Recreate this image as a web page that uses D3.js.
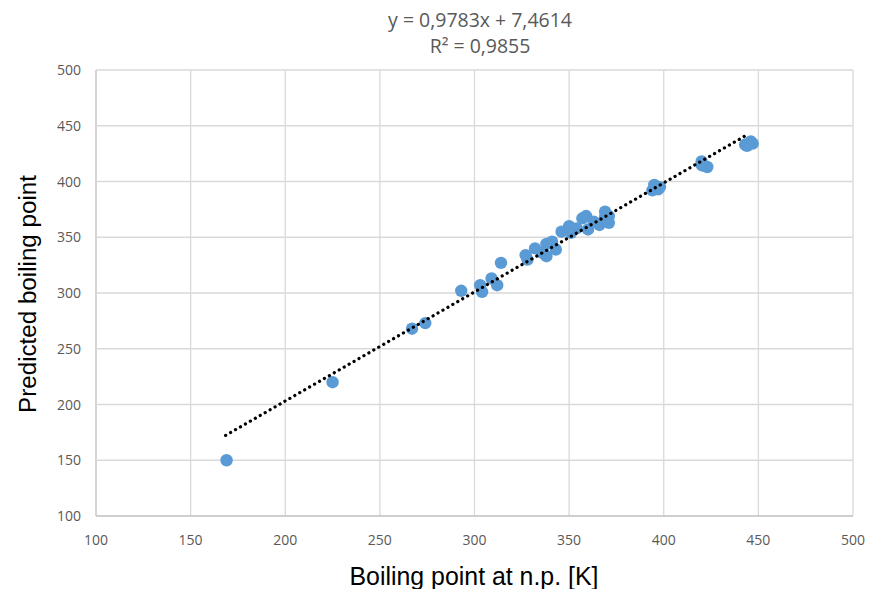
<!DOCTYPE html>
<html><head><meta charset="utf-8">
<script src="https://cdn.jsdelivr.net/npm/d3@7"></script>
<style>body{margin:0;background:#fff}</style>
</head><body>
<svg id="c" width="869" height="589"></svg>
<script>
const xValues = [169,225,267,274,293,303,304,309,312,314,327,328,332,336,338,341,343,338,346,350,351,354,357,359,360,363,366,369,371,371,369,395,397,394,398,420,423,421,420,443,446,447,444];
const yValues = [150,220,268,273,302,307,301,313,307,327,334,330,340,336,333,346,339,344,355,360,354,358,367,369,357,364,361,373,363,369,368,397,393,392,395,418,413,414,415,433,436,434,432];
const slope = 0.9783, intercept = 7.4614;
const equationLines = ["y = 0,9783x + 7,4614", "R² = 0,9855"];
const xTicks = [100,150,200,250,300,350,400,450,500];
const yTicks = [100,150,200,250,300,350,400,450,500];
const xTitle = "Boiling point at n.p. [K]";
const yTitle = "Predicted boiling point";

const svg = d3.select("#c");
const L=96,R=853,T=70,B=516;
const x = d3.scaleLinear().domain([100,500]).range([L,R]);
const y = d3.scaleLinear().domain([100,500]).range([B,T]);
const font = "'Open Sans', Roboto, sans-serif";
const titleFont = "'Liberation Sans Narrow', 'Liberation Sans', Arial, sans-serif";

function fitWidth(sel, target){
  const w = sel.node().getComputedTextLength();
  const fs = parseFloat(sel.attr("font-size"));
  sel.attr("font-size", fs*target/w);
}

svg.append("g").selectAll("line.v").data(xTicks).join("line")
  .attr("x1",d=>x(d)).attr("x2",d=>x(d)).attr("y1",T).attr("y2",B)
  .attr("stroke",d=>d===100?"#bfbfbf":"#d9d9d9").attr("stroke-width",1.3);
svg.append("g").selectAll("line.h").data(yTicks).join("line")
  .attr("y1",d=>y(d)).attr("y2",d=>y(d)).attr("x1",L).attr("x2",R)
  .attr("stroke",d=>d===100?"#bfbfbf":"#d9d9d9").attr("stroke-width",1.3);

svg.append("g").selectAll("text").data(xTicks).join("text")
  .attr("x",d=>x(d)).attr("y",545).attr("text-anchor","middle")
  .attr("font-family",font).attr("font-size",14).attr("fill","#595959").text(d=>d);
svg.append("g").selectAll("text").data(yTicks).join("text")
  .attr("x",81).attr("y",d=>y(d)+5).attr("text-anchor","end")
  .attr("font-family",font).attr("font-size",14).attr("fill","#595959").text(d=>d);

const pts = xValues.map((v,i)=>({x:v,y:yValues[i]}));
svg.append("g").selectAll("circle").data(pts).join("circle")
  .attr("cx",d=>x(d.x)).attr("cy",d=>y(d.y)).attr("r",6.2).attr("fill","#5b9bd5");

const ext = d3.extent(xValues);
const line = d3.line().x(d=>x(d)).y(d=>y(slope*d+intercept));
svg.append("path").attr("d",line([ext[0]-0.5, ext[1]-2.5]))
  .attr("stroke","#000").attr("stroke-width",3.2).attr("fill","none")
  .attr("stroke-linecap","round").attr("stroke-dasharray","0.1 5.6");

const eq = svg.append("g").selectAll("text").data(equationLines).join("text")
  .attr("x",480).attr("y",(d,i)=>27+i*26).attr("text-anchor","middle")
  .attr("font-family",font).attr("font-size",17).attr("fill","#595959").text(d=>d);
fitWidth(d3.select(eq.nodes()[0]), 184);
d3.select(eq.nodes()[1]).attr("font-size", d3.select(eq.nodes()[0]).attr("font-size"));

const xt = svg.append("text").attr("x",474).attr("y",585).attr("text-anchor","middle")
  .attr("font-family",titleFont).attr("font-size",22).attr("fill","#000").text(xTitle);
fitWidth(xt, 249);
const yt = svg.append("text").attr("transform","translate(36,294) rotate(-90)").attr("text-anchor","middle")
  .attr("font-family",titleFont).attr("font-size",22).attr("fill","#000").text(yTitle);
fitWidth(yt, 238);
</script>
</body></html>
